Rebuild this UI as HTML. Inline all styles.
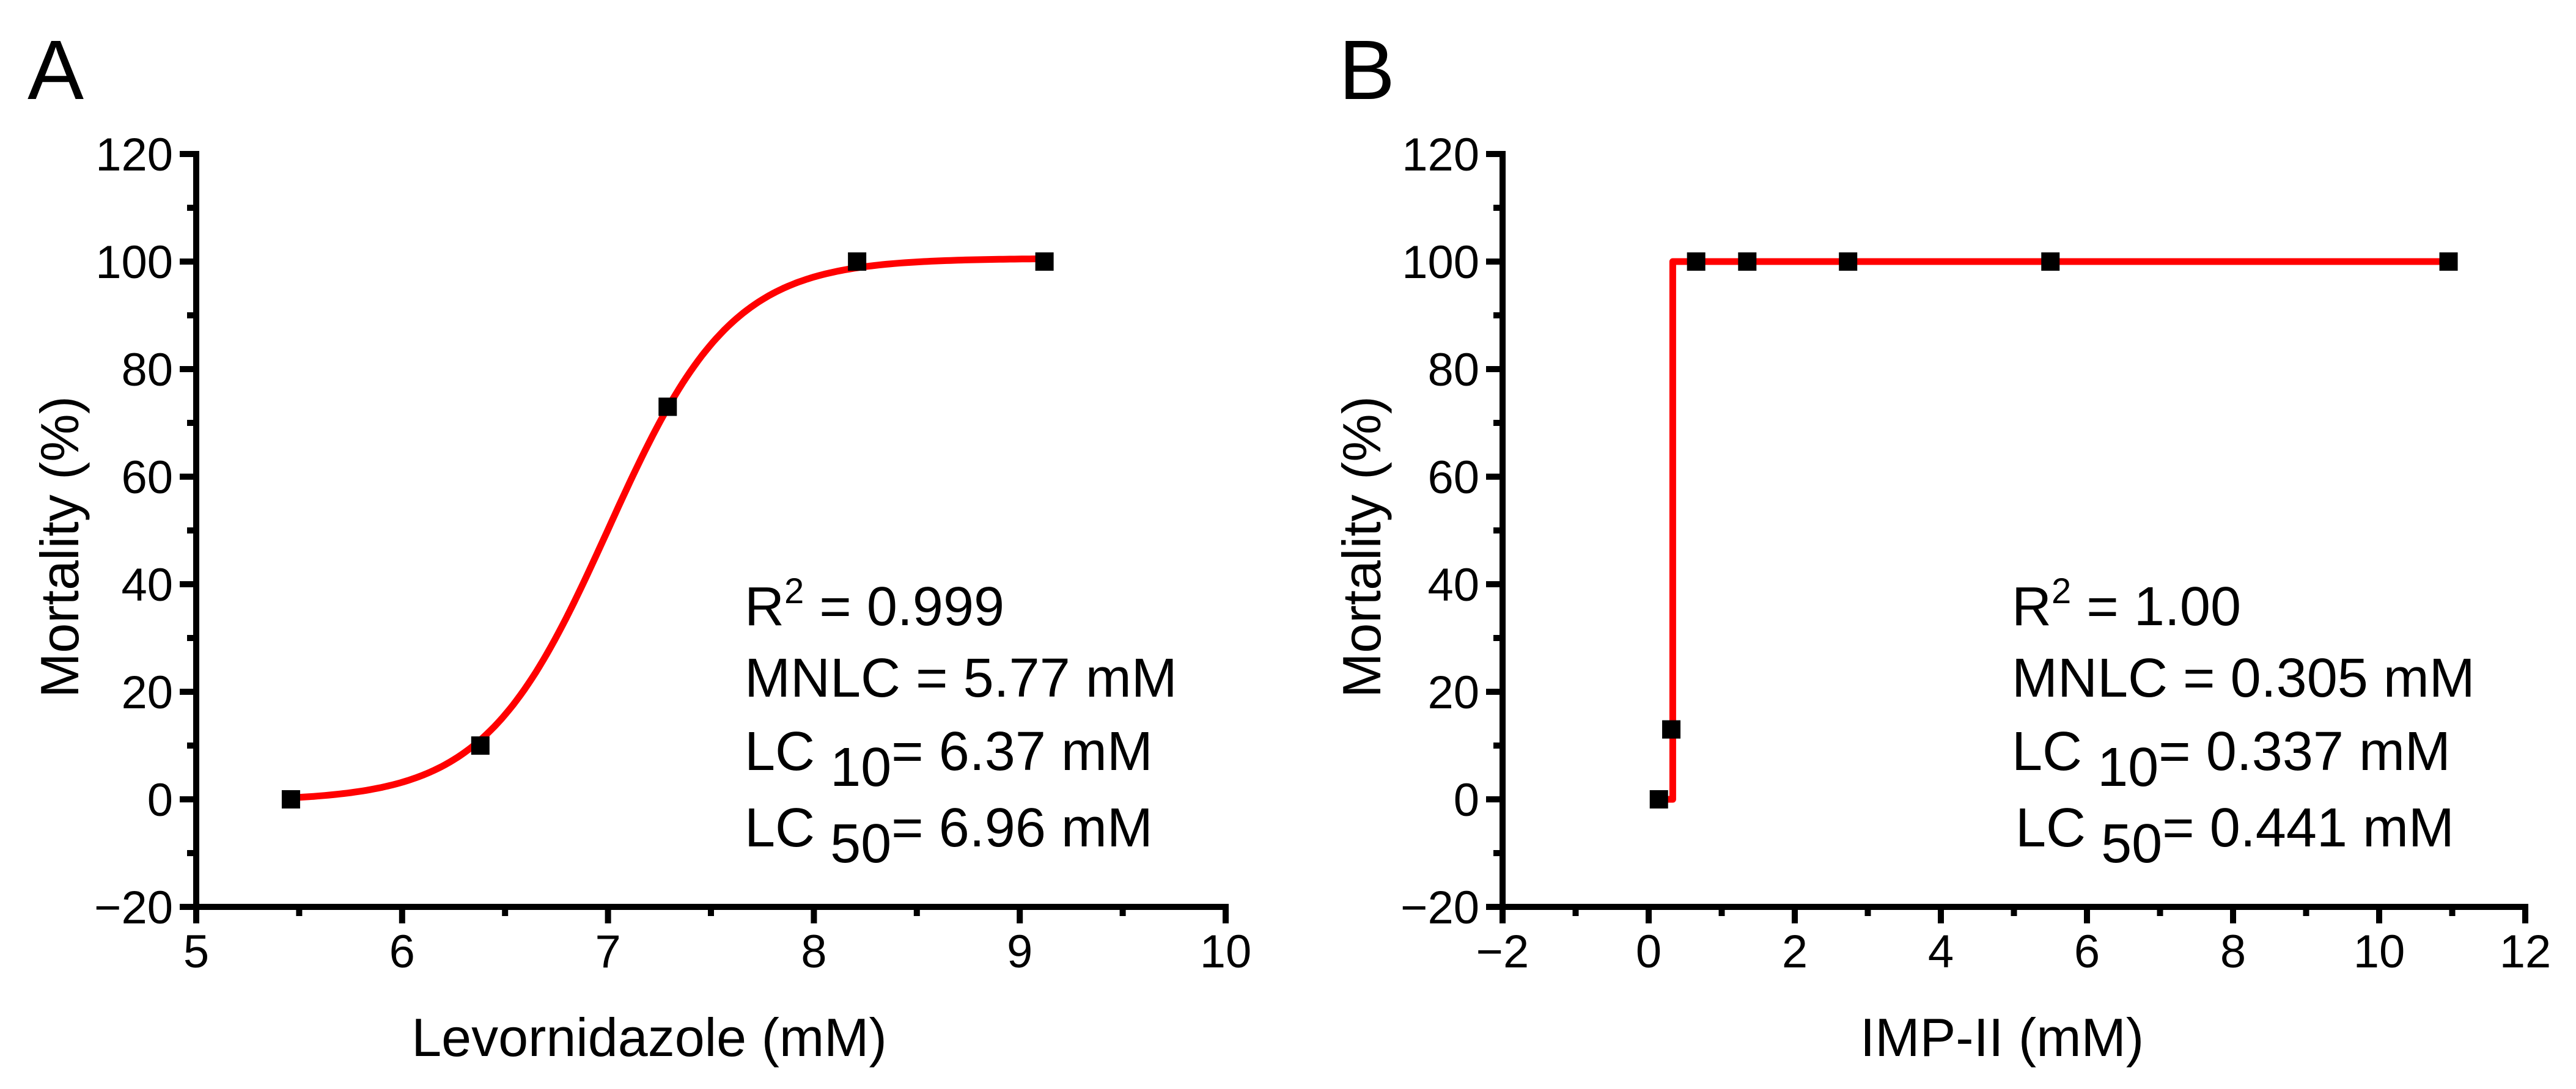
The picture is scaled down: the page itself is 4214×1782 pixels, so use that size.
<!DOCTYPE html>
<html><head><meta charset="utf-8"><style>
html,body{margin:0;padding:0;background:#fff}
svg{display:block}
text{font-family:"Liberation Sans",Arial,sans-serif;fill:#000}
</style></head><body>
<svg id="fig" width="4214" height="1782" viewBox="0 0 4214 1782" xmlns="http://www.w3.org/2000/svg"></svg>
<script>
// Panel A data
const aX = [5.46, 6.38, 7.29, 8.21, 9.12];
const aY = [0, 10, 73, 100, 100];
const aFitParams = [-0.3, 100.6, 7.0, 0.3]; // bottom, top, x0, slope
const aXTicks = [5, 6, 7, 8, 9, 10];
// Panel B data
const bX = [0.14, 0.31, 0.65, 1.35, 2.73, 5.5, 10.95];
const bY = [0, 13, 100, 100, 100, 100, 100];
const bFitX = [0.14, 0.33, 0.33, 10.95];
const bFitY = [0, 0, 100, 100];
const bXTicks = [-2, 0, 2, 4, 6, 8, 10, 12];
const yTicks = [-20, 0, 20, 40, 60, 80, 100, 120];

const NS = "http://www.w3.org/2000/svg";
const svg = document.getElementById('fig');
function mk(tag, attrs, parent, txt){
  const e = document.createElementNS(NS, tag);
  for (const k in attrs) e.setAttribute(k, attrs[k]);
  if (txt !== undefined) e.textContent = txt;
  (parent || svg).appendChild(e);
  return e;
}
const yPix = v => 1308 - v * 8.8;
const SW = 10;

function panel(cfg){
  const g = mk('g', {});
  
  
  const L = cfg.left, R = cfg.right;
  const xPix = v => L + (v - cfg.xmin) / (cfg.xmax - cfg.xmin) * (R - L);
  const yBot = yPix(-20), yTop = yPix(120);
  const lt = mk('text', {x: cfg.letterX, y: 162, 'font-size': 138}, g, cfg.letter);
  
  
  const ya = mk('line', {x1: L, y1: yTop - SW/2, x2: L, y2: yBot + SW/2, stroke: '#000', 'stroke-width': SW}, g);
  
  
  const xa = mk('line', {x1: L - SW/2, y1: yBot, x2: R + SW/2, y2: yBot, stroke: '#000', 'stroke-width': SW}, g);
  
  
  yTicks.forEach((v, i) => {
    const y = yPix(v);
    mk('line', {x1: L - 27, y1: y, x2: L, y2: y, stroke: '#000', 'stroke-width': SW}, g);
    const t = mk('text', {x: L - 38, y: y + 27, 'font-size': 76, 'text-anchor': 'end'}, g, v < 0 ? '\u2212' + (-v) : String(v));
    
    
    if (i < yTicks.length - 1) {
      const ym = yPix(v + 10);
      mk('line', {x1: L - 15, y1: ym, x2: L, y2: ym, stroke: '#000', 'stroke-width': SW}, g);
    }
  });
  cfg.xTicks.forEach((v, i) => {
    const x = xPix(v);
    mk('line', {x1: x, y1: yBot, x2: x, y2: yBot + 27, stroke: '#000', 'stroke-width': SW}, g);
    const t = mk('text', {x: x, y: 1583, 'font-size': 76, 'text-anchor': 'middle'}, g, v < 0 ? '\u2212' + (-v) : String(v));
    
    
    if (i < cfg.xTicks.length - 1) {
      const xm = xPix((v + cfg.xTicks[i + 1]) / 2);
      mk('line', {x1: xm, y1: yBot, x2: xm, y2: yBot + 15, stroke: '#000', 'stroke-width': SW}, g);
    }
  });
  const yt = mk('text', {x: 0, y: 0, 'font-size': 88, 'text-anchor': 'middle', transform: `translate(${cfg.yTitleX},895) rotate(-90)`}, g, 'Mortality (%)');
  
  
  const xt = mk('text', {x: cfg.xTitleX, y: 1728, 'font-size': 88, 'text-anchor': 'middle'}, g, cfg.xTitle);
  
  
  const fit = mk('polyline', {points: cfg.fitPts(xPix).join(' '), fill: 'none', stroke: '#ff0000', 'stroke-width': 11, 'stroke-linejoin': 'round'}, g);
  
  
  cfg.px.forEach((v, i) => {
    const m = mk('rect', {x: xPix(v) - 15, y: yPix(cfg.py[i]) - 15, width: 30, height: 30, fill: '#000'}, g);
    
    
  });
  const ax = cfg.annX;
  const t1 = mk('text', {x: ax, y: 1023, 'font-size': 90}, g);
  
  
  mk('tspan', {}, t1, 'R');
  mk('tspan', {dy: -36, 'font-size': 58}, t1, '2');
  mk('tspan', {dy: 36}, t1, ' = ' + cfg.r2);
  const t2 = mk('text', {x: ax, y: 1140, 'font-size': 90}, g, 'MNLC = ' + cfg.mnlc);
  
  
  [['10', cfg.lc10, 1260, ax, 'lc10-annotation'], ['50', cfg.lc50, 1385, cfg.annX50, 'lc50-annotation']].forEach(r => {
    const t = mk('text', {x: r[3], y: r[2], 'font-size': 90}, g);
    
    
    mk('tspan', {}, t, 'LC ');
    mk('tspan', {dy: 26}, t, r[0]);
    mk('tspan', {dy: -26}, t, '= ' + r[1]);
  });
}

panel({
  name: 'panel-a', letter: 'A', letterX: 45, left: 321, right: 2005, xmin: 5, xmax: 10,
  xTicks: aXTicks, px: aX, py: aY, xTitle: 'Levornidazole (mM)', xTitleX: 1062, yTitleX: 128,
  annX: 1218, annX50: 1218, r2: '0.999', mnlc: '5.77 mM', lc10: '6.37 mM', lc50: '6.96 mM',
  fitPts: xPix => {
    const pts = [];
    const [b, t, x0, s] = aFitParams;
    const x1 = aX[0], x2 = aX[aX.length - 1];
    for (let k = 0; k <= 200; k++) {
      const x = x1 + (x2 - x1) * k / 200;
      const y = t + (b - t) / (1 + Math.exp((x - x0) / s));
      pts.push(xPix(x).toFixed(1) + ',' + yPix(y).toFixed(1));
    }
    return pts;
  }
});
panel({
  name: 'panel-b', letter: 'B', letterX: 2190, left: 2458, right: 4131, xmin: -2, xmax: 12,
  xTicks: bXTicks, px: bX, py: bY, xTitle: 'IMP-II (mM)', xTitleX: 3275, yTitleX: 2258,
  annX: 3291, annX50: 3297, r2: '1.00', mnlc: '0.305 mM', lc10: '0.337 mM', lc50: '0.441 mM',
  fitPts: xPix => bFitX.map((x, i) => xPix(x).toFixed(1) + ',' + yPix(bFitY[i]).toFixed(1))
});
</script>
</body></html>
